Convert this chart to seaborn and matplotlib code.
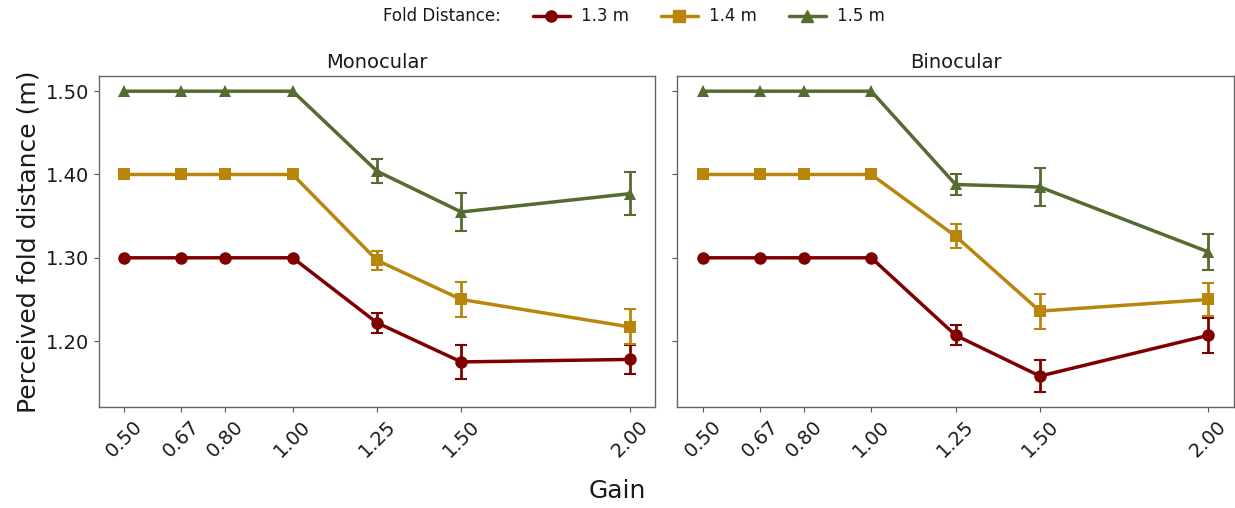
import numpy as np
import pandas as pd
import seaborn as sns
import matplotlib
matplotlib.use("Agg")
import matplotlib.pyplot as plt
from matplotlib.lines import Line2D

gains = [0.50, 0.67, 0.80, 1.00, 1.25, 1.50, 2.00]
gain_labels = ["0.50", "0.67", "0.80", "1.00", "1.25", "1.50", "2.00"]
fold_labels = ["1.3 m", "1.4 m", "1.5 m"]
conditions = ["Monocular", "Binocular"]

mono_13 = [1.30, 1.30, 1.30, 1.30, 1.222, 1.175, 1.178]
mono_14 = [1.40, 1.40, 1.40, 1.40, 1.297, 1.250, 1.217]
mono_15 = [1.50, 1.50, 1.50, 1.50, 1.404, 1.355, 1.377]
mono_13_err = [0, 0, 0, 0, 0.012, 0.020, 0.017]
mono_14_err = [0, 0, 0, 0, 0.0115, 0.021, 0.021]
mono_15_err = [0, 0, 0, 0, 0.0145, 0.023, 0.026]

bino_13 = [1.30, 1.30, 1.30, 1.30, 1.207, 1.158, 1.207]
bino_14 = [1.40, 1.40, 1.40, 1.40, 1.326, 1.236, 1.250]
bino_15 = [1.50, 1.50, 1.50, 1.50, 1.388, 1.385, 1.307]
bino_13_err = [0, 0, 0, 0, 0.012, 0.019, 0.021]
bino_14_err = [0, 0, 0, 0, 0.0145, 0.021, 0.020]
bino_15_err = [0, 0, 0, 0, 0.013, 0.0225, 0.022]

colors = ["#800000", "#B8860B", "#556B2F"]
markers = ["o", "s", "^"]

rows = []
series = {
    "Monocular": [(mono_13, mono_13_err), (mono_14, mono_14_err), (mono_15, mono_15_err)],
    "Binocular": [(bino_13, bino_13_err), (bino_14, bino_14_err), (bino_15, bino_15_err)],
}
for cond in conditions:
    for lab, (vals, errs) in zip(fold_labels, series[cond]):
        for g, v, e in zip(gains, vals, errs):
            rows.append({"cond": cond, "fold": lab, "gain": g, "y": v, "err": e})
df = pd.DataFrame(rows)

sns.set_theme(style="ticks")
plt.rcParams["font.family"] = ["DejaVu Sans"]
plt.rcParams["text.color"] = "#1a1a1a"
plt.rcParams["axes.labelcolor"] = "#1a1a1a"

fig, axes = plt.subplots(1, 2, figsize=(12.35, 5.08), dpi=100, sharey=True)
fig.subplots_adjust(left=0.080, right=0.999, top=0.850, bottom=0.199, wspace=0.04)

for ax, cond in zip(axes, conditions):
    sub = df[df["cond"] == cond]
    sns.lineplot(data=sub, x="gain", y="y", hue="fold", style="fold",
                 palette=colors, markers=markers, dashes=False,
                 hue_order=fold_labels, style_order=fold_labels,
                 markersize=9, markeredgewidth=0, linewidth=2.5, ax=ax, legend=False)
    for lab, c in zip(fold_labels, colors):
        s = sub[(sub["fold"] == lab) & (sub["err"] > 0)]
        ax.errorbar(s["gain"], s["y"], yerr=s["err"], fmt="none", ecolor=c,
                    elinewidth=2, capsize=4, capthick=1.5)
    ax.set_title(cond, fontsize=14)
    ax.set_xticks(gains)
    ax.set_xticklabels(gain_labels, rotation=45, fontsize=14)
    ax.set_xlim(0.425, 2.075)
    ax.set_ylim(1.121, 1.518)
    ax.set_yticks([1.20, 1.30, 1.40, 1.50])
    ax.set_yticklabels(["1.20", "1.30", "1.40", "1.50"], fontsize=14)
    ax.tick_params(length=3.5, width=0.8, color="#555555", labelcolor="#1a1a1a")
    ax.set_xlabel("")
    ax.set_ylabel("")
    for sp in ax.spines.values():
        sp.set_color("#666666")
        sp.set_linewidth(1.0)
        sp.set_visible(True)

axes[0].set_ylabel("Perceived fold distance (m)", fontsize=18)
fig.supxlabel("Gain", fontsize=18, y=0.01)

handles = [Line2D([], [], linestyle="none", marker=None)]
labels = ["Fold Distance:"]
for lab, c, m in zip(fold_labels, colors, markers):
    handles.append(Line2D([], [], color=c, marker=m, linewidth=2.5, markersize=8))
    labels.append(lab)
fig.legend(handles, labels, loc="upper center", ncol=4, frameon=False,
           bbox_to_anchor=(0.494, 1.015), fontsize=12, handlelength=2.2,
           columnspacing=1.9, handletextpad=0.7)

fig.savefig("out.png", dpi=100)
